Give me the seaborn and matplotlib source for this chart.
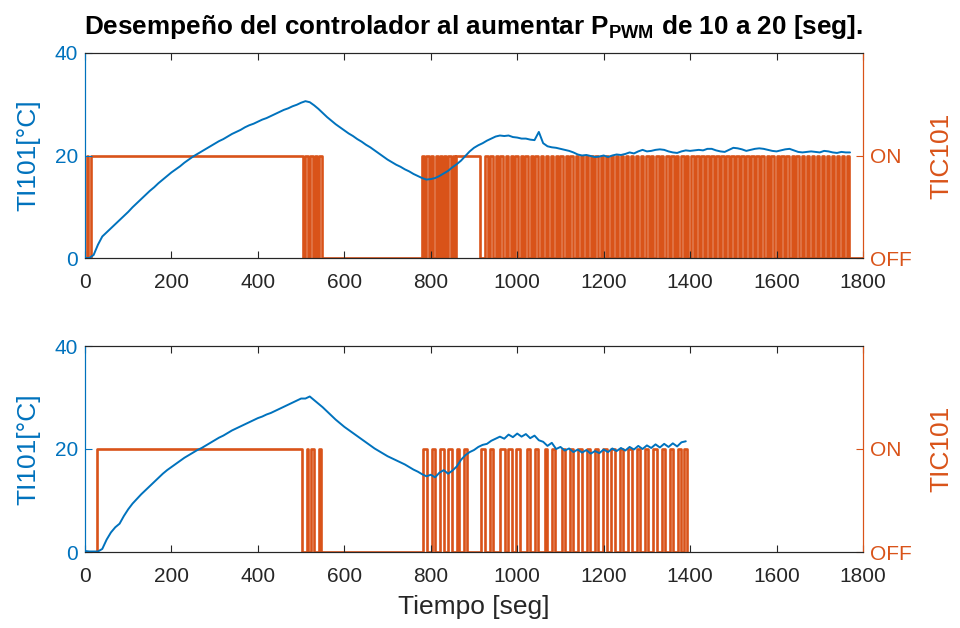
import numpy as np
import pandas as pd
import matplotlib
matplotlib.use("Agg")
import matplotlib.pyplot as plt
import seaborn as sns

# ---------------- data ----------------
title_text = r"Desempeño del controlador al aumentar P$_{\mathbf{PWM}}$ de 10 a 20 [seg]."
x_label = "Tiempo [seg]"
left_label = "TI101[°C]"
right_label = "TIC101"
x_ticks = [0, 200, 400, 600, 800, 1000, 1200, 1400, 1600, 1800]
y_ticks = [0, 20, 40]
pwm_levels = [0, 1]
pwm_tick_labels = ["OFF", "ON"]

sample_step = 10  # seconds between temperature samples

# top panel (P_PWM = 10 s): temperature every 10 s, 0..1770 s
top_temp = [
    0.0, 0.0, 0.6, 2.6, 4.2, 5.0, 5.8, 6.6, 7.4, 8.2,
    9.0, 9.9, 10.7, 11.5, 12.3, 13.1, 13.8, 14.6, 15.3, 16.0,
    16.7, 17.3, 17.9, 18.6, 19.2, 19.8, 20.3, 20.8, 21.3, 21.8,
    22.3, 22.8, 23.2, 23.7, 24.2, 24.6, 25.0, 25.5, 25.9, 26.2,
    26.6, 27.0, 27.3, 27.7, 28.1, 28.5, 28.9, 29.2, 29.6, 29.9,
    30.3, 30.6, 30.4, 29.8, 29.1, 28.3, 27.5, 26.8, 26.1, 25.5,
    24.9, 24.3, 23.8, 23.2, 22.7, 22.1, 21.6, 21.0, 20.4, 19.8,
    19.2, 18.7, 18.2, 17.8, 17.3, 16.9, 16.4, 16.0, 15.6, 15.3,
    15.4, 15.6, 16.0, 16.5, 17.0, 17.7, 18.3, 19.0, 19.9, 20.8,
    21.5, 22.0, 22.4, 22.9, 23.3, 23.7, 23.9, 23.8, 23.9, 23.6,
    23.5, 23.3, 23.3, 23.1, 23.0, 24.6, 22.4, 21.8, 21.6, 21.5,
    21.3, 21.1, 20.9, 20.6, 20.2, 20.0, 20.1, 19.9, 19.7, 19.8,
    20.0, 19.7, 20.0, 20.2, 20.1, 20.3, 20.6, 20.4, 20.8, 21.1,
    20.8, 20.9, 21.1, 21.2, 21.1, 20.8, 20.6, 20.5, 20.8, 21.0,
    20.9, 21.0, 21.1, 21.0, 21.3, 21.3, 21.0, 20.8, 20.7, 21.1,
    21.5, 21.4, 21.2, 20.9, 21.1, 21.3, 21.4, 21.3, 21.1, 20.9,
    20.8, 21.0, 21.2, 21.3, 21.0, 20.7, 20.6, 20.7, 20.8, 20.7,
    20.6, 20.9, 20.8, 20.6, 20.5, 20.7, 20.6, 20.6,
]

# bottom panel (P_PWM = 20 s): temperature every 10 s, 0..1390 s
bottom_temp = [
    0.2, 0.1, 0.1, 0.1, 0.6, 2.4, 3.8, 4.8, 5.5, 7.0,
    8.3, 9.4, 10.3, 11.2, 12.0, 12.8, 13.6, 14.4, 15.2, 15.9,
    16.5, 17.1, 17.7, 18.3, 18.8, 19.3, 19.8, 20.2, 20.7, 21.2,
    21.7, 22.2, 22.6, 23.1, 23.6, 24.0, 24.4, 24.8, 25.2, 25.6,
    26.0, 26.3, 26.7, 27.0, 27.4, 27.8, 28.2, 28.6, 29.0, 29.4,
    29.8, 29.8, 30.2, 29.5, 28.8, 28.1, 27.3, 26.5, 25.7, 25.0,
    24.3, 23.7, 23.1, 22.5, 21.9, 21.3, 20.7, 20.1, 19.6, 19.1,
    18.6, 18.2, 17.8, 17.4, 17.0, 16.5, 16.0, 15.6, 15.1, 14.7,
    15.0, 14.5, 15.4, 15.9, 15.2, 15.8, 16.6, 17.9, 18.8, 19.4,
    19.8, 20.4, 20.8, 21.0, 21.6, 22.0, 22.4, 22.0, 22.8, 22.3,
    23.0, 22.4, 22.9, 22.1, 22.6, 21.7, 21.4, 20.6, 21.2, 20.0,
    20.4, 19.7, 20.1, 19.4, 19.9, 19.3, 19.8, 19.1, 19.6, 19.2,
    19.9, 19.4, 20.1, 19.6, 20.2, 19.7, 20.4, 19.9, 20.6, 20.0,
    20.7, 20.2, 20.9, 20.3, 21.0, 20.4, 21.1, 20.5, 21.3, 21.5,
]

# PWM output (ON intervals, seconds)
top_on_start = [5, 15, 509, 521, 531, 541,
                779, 789, 800, 811, 821, 831, 841, 851, 858,
                926, 938, 950, 961, 973, 985, 996, 1008, 1019, 1031, 1042, 1054, 1066, 1077,
                1089, 1100, 1112, 1123, 1135, 1147, 1158, 1170, 1181, 1193, 1205, 1216, 1228,
                1240, 1251, 1263, 1275, 1286, 1298, 1309, 1321, 1333, 1344, 1356, 1367, 1379,
                1391, 1402, 1414, 1426, 1437, 1449, 1460, 1472, 1484, 1495, 1507, 1518, 1530,
                1542, 1553, 1565, 1577, 1588, 1600, 1611, 1623, 1635, 1646, 1658, 1670, 1681,
                1693, 1704, 1716, 1728, 1739, 1751, 1762]
top_on_end = [8, 505, 517, 527, 537, 549,
              784, 795, 806, 816, 826, 836, 846, 855, 914,
              932, 944, 955, 967, 979, 990, 1002, 1013, 1025, 1037, 1048, 1060, 1071, 1083,
              1094, 1106, 1118, 1129, 1141, 1152, 1164, 1176, 1187, 1199, 1210, 1222, 1234,
              1245, 1257, 1269, 1280, 1292, 1304, 1315, 1327, 1338, 1350, 1362, 1373, 1385,
              1396, 1408, 1420, 1431, 1443, 1455, 1466, 1478, 1489, 1501, 1513, 1524, 1536,
              1547, 1559, 1571, 1582, 1594, 1606, 1617, 1629, 1640, 1652, 1664, 1675, 1687,
              1699, 1710, 1722, 1733, 1745, 1757, 1768]
top_pwm_end_time = 1800

bottom_on_start = [27, 513, 524, 542,
                   783, 803, 822, 841, 860, 876,
                   917, 937, 960, 979, 998, 1022, 1041, 1064, 1080, 1103, 1122, 1141, 1161,
                   1180, 1199, 1218, 1238, 1257, 1276, 1296, 1315, 1334, 1353, 1373, 1386]
bottom_on_end = [503, 515, 530, 545,
                 791, 810, 830, 849, 866, 883,
                 925, 945, 972, 987, 1006, 1030, 1049, 1068, 1087, 1110, 1130, 1149, 1168,
                 1188, 1207, 1226, 1245, 1265, 1284, 1303, 1323, 1342, 1361, 1380, 1392]
bottom_pwm_end_time = 1392

# ---------------- styling ----------------
BLUE = "#0072BD"
ORANGE = "#D95319"
DARK = "#262626"

sns.set_theme(style="white")
plt.rcParams["font.family"] = ["Liberation Sans", "DejaVu Sans"]
plt.rcParams["mathtext.fontset"] = "custom"
plt.rcParams["mathtext.rm"] = "Liberation Sans"
plt.rcParams["mathtext.bf"] = "Liberation Sans:bold"
plt.rcParams["axes.linewidth"] = 0.8

TICK_FS = 15
LABEL_FS = 19


def temp_frame(values):
    t = np.arange(len(values)) * sample_step
    return pd.DataFrame({"t": t, "T": values})


def pwm_frame(starts, ends, t_end):
    xs, ys = [0.0], [0]
    for s, e in zip(starts, ends):
        xs += [s, s, e, e]
        ys += [0, 1, 1, 0]
    xs.append(t_end)
    ys.append(0)
    return pd.DataFrame({"t": xs, "s": ys})


fig = plt.figure(figsize=(9.6, 6.28), dpi=100)
ax_top = fig.add_axes([85 / 960, 1 - 258 / 628, 778 / 960, 205 / 628])
ax_bot = fig.add_axes([85 / 960, 1 - 552 / 628, 778 / 960, 206 / 628])

panels = [
    (ax_top, top_temp, top_on_start, top_on_end, top_pwm_end_time),
    (ax_bot, bottom_temp, bottom_on_start, bottom_on_end, bottom_pwm_end_time),
]

for ax, temps, ons, offs, t_end in panels:
    ax2 = ax.twinx()
    pw = pwm_frame(ons, offs, t_end)
    sns.lineplot(data=pw, x="t", y="s", ax=ax2, color=ORANGE, lw=1.9,
                 estimator=None, sort=False)
    tf = temp_frame(temps)
    sns.lineplot(data=tf, x="t", y="T", ax=ax, color=BLUE, lw=1.4,
                 estimator=None, sort=False)
    ax.set_zorder(ax2.get_zorder() + 1)
    ax.patch.set_visible(False)

    ax.set_xlim(0, 1800)
    ax.set_ylim(0, 40)
    ax2.set_ylim(0, 2)
    ax.set_xticks(x_ticks)
    ax.set_xticklabels([str(v) for v in x_ticks])
    ax.set_yticks(y_ticks)
    ax2.set_yticks(pwm_levels)
    ax2.set_yticklabels(pwm_tick_labels)

    ax.tick_params(axis="x", direction="in", top=True, bottom=True, length=5,
                   width=0.8, color=DARK, labelcolor=DARK, labelsize=TICK_FS, pad=11)
    ax.tick_params(axis="y", direction="in", left=True, right=False, length=5,
                   width=0.8, color=BLUE, labelcolor=BLUE, labelsize=TICK_FS, pad=5)
    ax2.tick_params(axis="y", direction="in", right=True, length=5, width=0.8,
                    color=ORANGE, labelcolor=ORANGE, labelsize=TICK_FS, pad=5)

    for a in (ax, ax2):
        a.spines["top"].set_color(DARK)
        a.spines["bottom"].set_color(DARK)
        a.spines["left"].set_color(BLUE)
        a.spines["right"].set_color(ORANGE)
        for sp in a.spines.values():
            sp.set_linewidth(0.8)
            sp.set_visible(True)

    ax.set_xlabel("")
    ax.set_ylabel(left_label, color=BLUE, fontsize=LABEL_FS, labelpad=10)
    ax2.set_ylabel(right_label, color=ORANGE, fontsize=LABEL_FS, labelpad=13)

ax_bot.set_xlabel(x_label, color=DARK, fontsize=LABEL_FS, labelpad=6)
ax_top.set_title(title_text, fontsize=18.8, fontweight="bold", color="black", pad=14)

fig.savefig("out.png", dpi=100)
